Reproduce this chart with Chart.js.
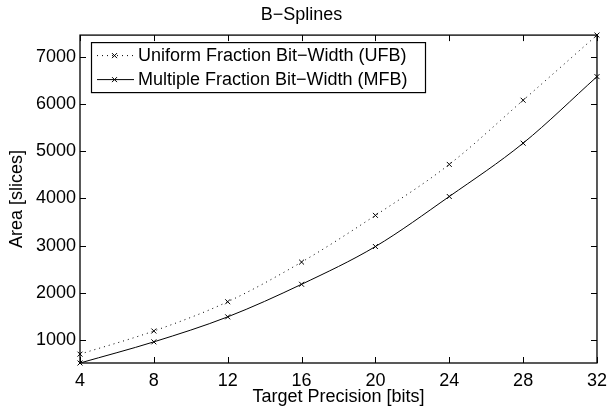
<!DOCTYPE html>
<html>
<head>
<meta charset="utf-8">
<script src="https://cdn.jsdelivr.net/npm/chart.js@4"></script>
<style>
html,body{margin:0;padding:0;background:#fff;}
#wrap{width:614px;height:411px;position:relative;}
</style>
</head>
<body>
<div id="wrap"><canvas id="c" width="614" height="411"></canvas></div>
<script>
const precision = [4, 8, 12, 16, 20, 24, 28, 32];
const ufbArea = [700, 1190, 1810, 2650, 3640, 4720, 6080, 7460];
const mfbArea = [512, 960, 1490, 2180, 2980, 4040, 5170, 6580];
const xTickValues = [4, 8, 12, 16, 20, 24, 28, 32];
const yTickValues = [1000, 2000, 3000, 4000, 5000, 6000, 7000];
const seriesNames = ['Uniform Fraction Bit\u2212Width (UFB)', 'Multiple Fraction Bit\u2212Width (MFB)'];
const titleText = 'B\u2212Splines';
const xTitle = 'Target Precision [bits]';
const yTitle = 'Area [slices]';

const FONT = 'Liberation Sans, Arial, Helvetica, sans-serif';
const FS = 18;

const boxAndTicks = {
  id: 'boxAndTicks',
  afterDatasetsDraw(chart) {
    const {ctx, chartArea: a, scales} = chart;
    ctx.save();
    ctx.strokeStyle = '#000';
    ctx.lineWidth = 1.3;
    ctx.strokeRect(a.left, a.top, a.right - a.left, a.bottom - a.top);
    ctx.lineWidth = 1;
    const tl = 6;
    ctx.beginPath();
    scales.x.ticks.forEach(t => {
      const px = Math.round(scales.x.getPixelForValue(t.value)) + 0.5;
      ctx.moveTo(px, a.bottom); ctx.lineTo(px, a.bottom - tl);
      ctx.moveTo(px, a.top); ctx.lineTo(px, a.top + tl);
    });
    scales.y.ticks.forEach(t => {
      const py = Math.round(scales.y.getPixelForValue(t.value)) + 0.5;
      ctx.moveTo(a.left, py); ctx.lineTo(a.left + tl, py);
      ctx.moveTo(a.right, py); ctx.lineTo(a.right - tl, py);
    });
    ctx.stroke();
    ctx.restore();
  },
  afterDraw(chart) {
    const {ctx, chartArea: a} = chart;
    ctx.save();
    const x0 = a.left + 11, y0 = a.top + 7, w = 334, h = 50;
    ctx.fillStyle = '#fff';
    ctx.fillRect(x0, y0, w, h);
    ctx.strokeStyle = '#000';
    ctx.lineWidth = 1.2;
    ctx.strokeRect(x0 + 0.5, y0 + 0.5, w, h);
    ctx.font = FS + 'px ' + FONT;
    ctx.textBaseline = 'middle';
    ctx.fillStyle = '#000';
    chart.data.datasets.forEach((ds, i) => {
      const cy = y0 + 13 + i * 24;
      ctx.lineWidth = 1;
      ctx.setLineDash(ds.borderDash || []);
      ctx.beginPath();
      ctx.moveTo(x0 + 6, cy + 0.5); ctx.lineTo(x0 + 43, cy + 0.5);
      ctx.stroke();
      ctx.setLineDash([]);
      const mx = x0 + 23.5, r = 2.5;
      ctx.beginPath();
      ctx.moveTo(mx - r, cy - r + 0.5); ctx.lineTo(mx + r, cy + r + 0.5);
      ctx.moveTo(mx - r, cy + r + 0.5); ctx.lineTo(mx + r, cy - r + 0.5);
      ctx.stroke();
      ctx.fillText(ds.label, x0 + 47, cy + 1);
    });
    ctx.restore();
  }
};

new Chart(document.getElementById('c'), {
  type: 'line',
  data: {
    datasets: [
      {
        label: seriesNames[0],
        data: precision.map((p, i) => ({x: p, y: ufbArea[i]})),
        borderColor: '#000', borderWidth: 1, borderDash: [1, 4],
        pointStyle: 'crossRot', pointRadius: 3.5, pointBorderWidth: 1,
        pointBorderColor: '#000', backgroundColor: '#000',
        cubicInterpolationMode: 'monotone', fill: false
      },
      {
        label: seriesNames[1],
        data: precision.map((p, i) => ({x: p, y: mfbArea[i]})),
        borderColor: '#000', borderWidth: 1,
        pointStyle: 'crossRot', pointRadius: 3.5, pointBorderWidth: 1,
        pointBorderColor: '#000', backgroundColor: '#000',
        cubicInterpolationMode: 'monotone', fill: false
      }
    ]
  },
  options: {
    responsive: false,
    animation: false,
    clip: false,
    layout: {padding: {top: 0, right: 11, left: 0, bottom: 0}},
    plugins: {
      legend: {display: false},
      tooltip: {enabled: false},
      title: {
        display: true, text: titleText, color: '#000',
        font: {family: FONT, size: FS, weight: 'normal'},
        padding: {top: 4, bottom: 9.5}
      }
    },
    scales: {
      x: {
        type: 'linear', min: 4, max: 32,
        afterBuildTicks: s => { s.ticks = xTickValues.map(v => ({value: v})); },
        afterFit: s => { s.height = 48; },
        grid: {display: false, drawTicks: false},
        border: {display: false},
        ticks: {color: '#000', padding: 7, font: {family: FONT, size: FS}, maxRotation: 0, callback: v => String(v)},
        title: {display: true, text: xTitle, color: '#000', font: {family: FONT, size: FS}, padding: {top: 0, bottom: 3}}
      },
      y: {
        type: 'linear', min: 512, max: 7460,
        afterBuildTicks: s => { s.ticks = yTickValues.map(v => ({value: v})); },
        afterFit: s => { s.width = 80; },
        grid: {display: false, drawTicks: false},
        border: {display: false},
        ticks: {color: '#000', padding: 4, font: {family: FONT, size: FS}, callback: v => String(v)},
        title: {display: true, text: yTitle, color: '#000', font: {family: FONT, size: FS}, padding: {top: 6, bottom: 0}}
      }
    }
  },
  plugins: [boxAndTicks]
});
</script>
</body>
</html>
